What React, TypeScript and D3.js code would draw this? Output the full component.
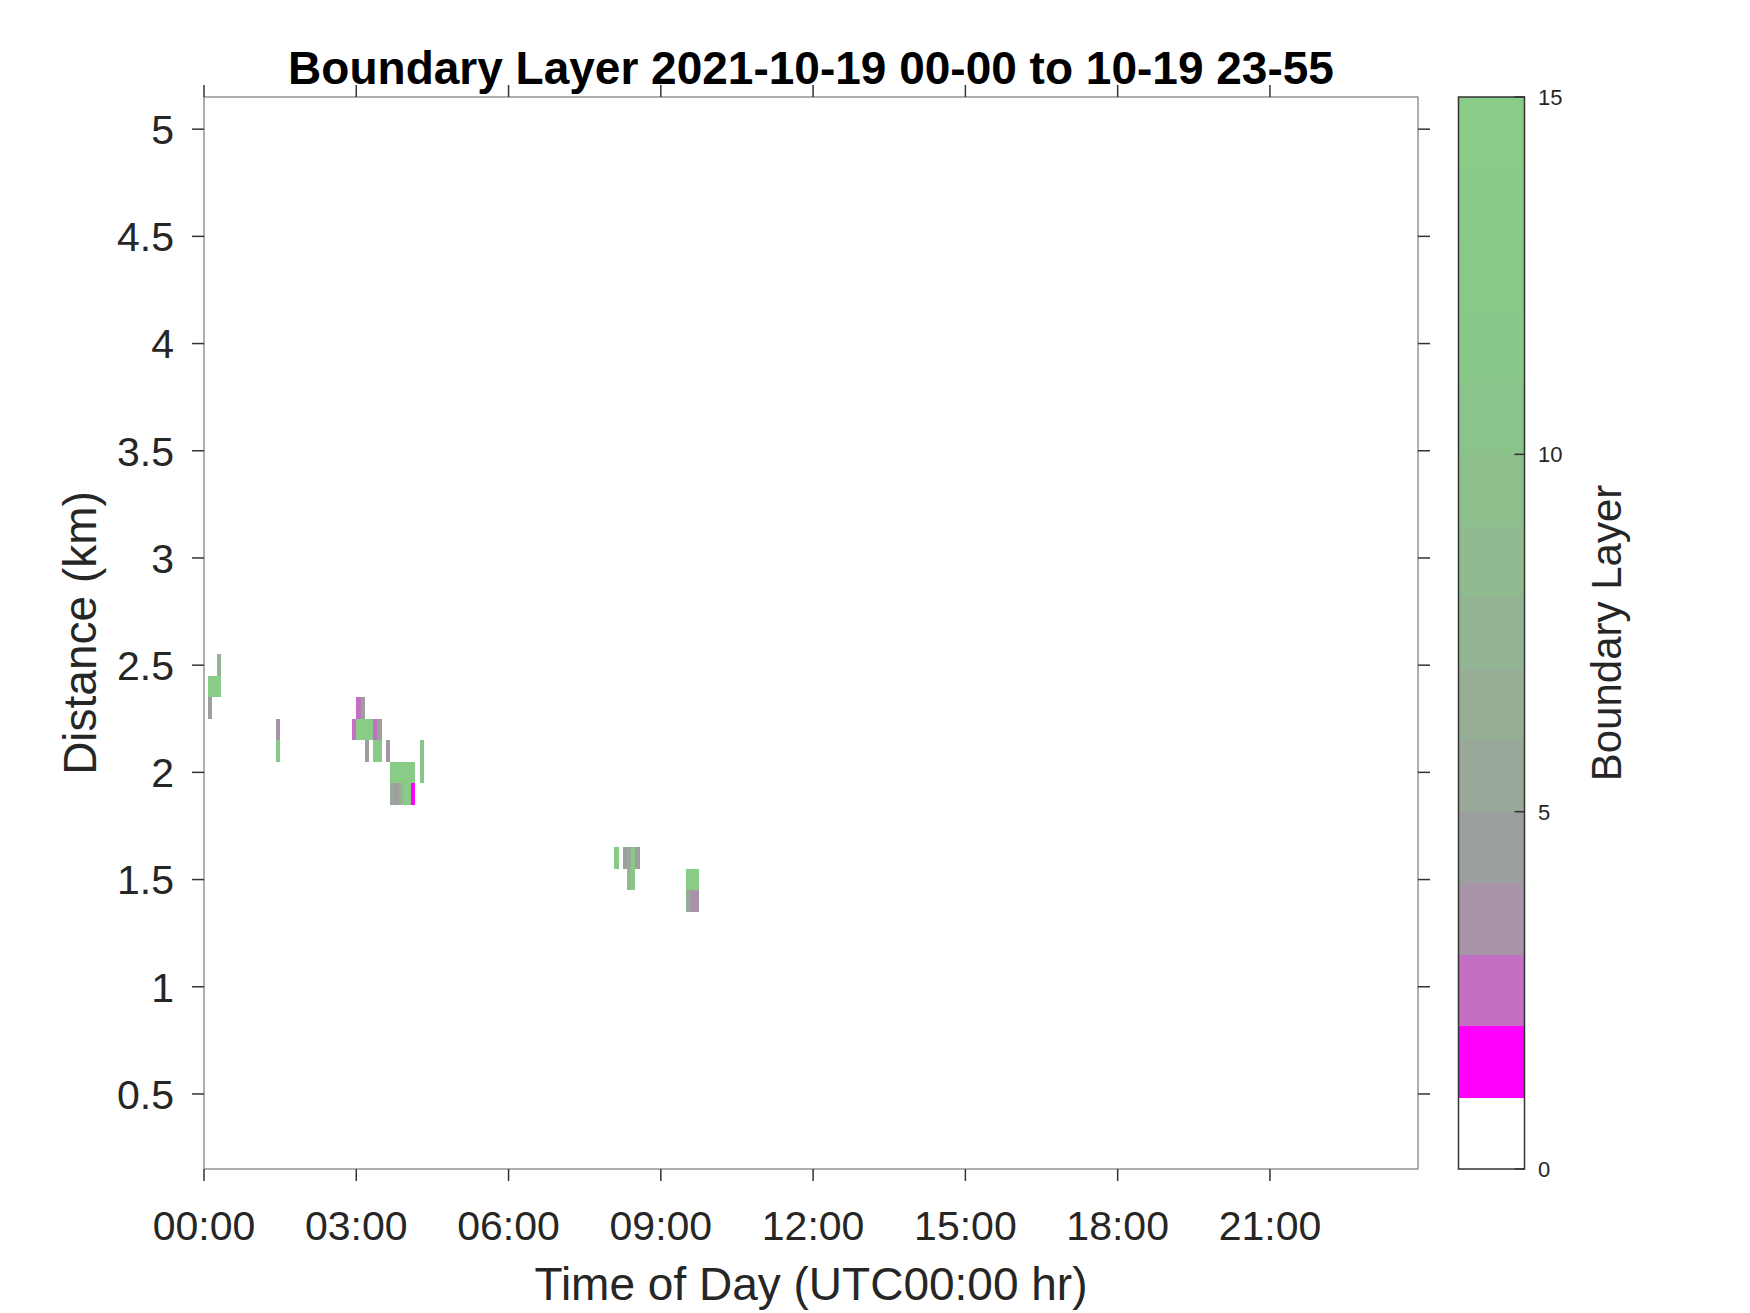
import React from "react";
import * as d3 from "d3";

// time of each cell start (minutes after 00:00), range bin centre (km), class level
const cellMinutes = [
  5, 10, 15, 15, 5,
  85, 85,
  180, 185,
  175, 180, 185, 190, 195, 200, 205,
  190, 200, 205, 215, 255,
  220, 225, 230, 235, 240, 245, 255,
  220, 225, 230, 235, 240, 245,
  485, 495, 500, 505, 510,
  500, 505,
  570, 575, 580,
  570, 575, 580,
];
const cellKm = [
  2.4, 2.4, 2.4, 2.5, 2.3,
  2.2, 2.1,
  2.3, 2.3,
  2.2, 2.2, 2.2, 2.2, 2.2, 2.2, 2.2,
  2.1, 2.1, 2.1, 2.1, 2.1,
  2.0, 2.0, 2.0, 2.0, 2.0, 2.0, 2.0,
  1.9, 1.9, 1.9, 1.9, 1.9, 1.9,
  1.6, 1.6, 1.6, 1.6, 1.6,
  1.5, 1.5,
  1.5, 1.5, 1.5,
  1.4, 1.4, 1.4,
];
const cellLevel = [
  14, 14, 14, 7, 4,
  3, 12,
  2, 4,
  2, 14, 14, 14, 14, 2, 4,
  4, 13, 13, 3, 10,
  14, 14, 14, 14, 14, 14, 11,
  5, 4, 7, 13, 13, 1,
  12, 4, 5, 12, 4,
  8, 12,
  14, 14, 14,
  6, 3, 3,
];

// discrete colormap, one colour per unit from 0 to 15
const levelColors = [
  "#ffffff", "#ff00ff", "#c36fc2", "#a894a8", "#9ca09c",
  "#99a899", "#96ae96", "#93b493", "#90ba90", "#8dbf8d",
  "#8ac48a", "#89c789", "#88c988", "#88cb88", "#88cc88",
];

const xTickMinutes = [0, 180, 360, 540, 720, 900, 1080, 1260];
const xTickLabels = ["00:00", "03:00", "06:00", "09:00", "12:00", "15:00", "18:00", "21:00"];
const yTicks = [0.5, 1, 1.5, 2, 2.5, 3, 3.5, 4, 4.5, 5];
const cbTicks = [0, 5, 10, 15];

const W = 1750;
const H = 1313;
const plot = { left: 204, right: 1418, top: 97, bottom: 1169 };
const cb = { left: 1458.5, right: 1524.5 };
const font = "'Liberation Sans', Arial, Helvetica, sans-serif";
const txt = "#262626";

export default function App() {
  const x = d3.scaleLinear().domain([0, 1435]).range([plot.left, plot.right]);
  const y = d3.scaleLinear().domain([0.15, 5.15]).range([plot.bottom, plot.top]);
  const c = d3.scaleLinear().domain([0, 15]).range([plot.bottom, plot.top]);
  const tl = 12;

  const cells = cellMinutes.map((m, i) => ({ m, km: cellKm[i], lv: cellLevel[i] }));

  return (
    <svg
      width={W}
      height={H}
      style={{ position: "absolute", left: 0, top: 0, background: "#fff" }}
      fontFamily={font}
    >
      {/* cells */}
      <g shapeRendering="crispEdges">
        {cells.map((d, i) => (
          <rect
            key={i}
            x={x(d.m)}
            y={y(d.km + 0.05)}
            width={x(d.m + 5) - x(d.m)}
            height={y(d.km - 0.05) - y(d.km + 0.05)}
            fill={levelColors[d.lv]}
          />
        ))}
      </g>

      {/* axes box */}
      <rect
        x={plot.left}
        y={plot.top}
        width={plot.right - plot.left}
        height={plot.bottom - plot.top}
        fill="none"
        stroke="#7a7a7a"
        strokeWidth={1.2}
      />

      {/* x ticks, top and bottom, outward */}
      {xTickMinutes.map((m, i) => (
        <g key={m}>
          <line x1={x(m)} x2={x(m)} y1={plot.bottom} y2={plot.bottom + tl} stroke="#333" strokeWidth={1.5} />
          <line x1={x(m)} x2={x(m)} y1={plot.top} y2={plot.top - tl} stroke="#333" strokeWidth={1.5} />
          <text x={x(m)} y={1240} textAnchor="middle" fontSize={41} fill={txt}>
            {xTickLabels[i]}
          </text>
        </g>
      ))}

      {/* y ticks, left and right, outward */}
      {yTicks.map((v) => (
        <g key={v}>
          <line x1={plot.left - tl} x2={plot.left} y1={y(v)} y2={y(v)} stroke="#333" strokeWidth={1.5} />
          <line x1={plot.right} x2={plot.right + tl} y1={y(v)} y2={y(v)} stroke="#333" strokeWidth={1.5} />
          <text x={174} y={y(v)} dy="0.36em" textAnchor="end" fontSize={41} fill={txt}>
            {String(v)}
          </text>
        </g>
      ))}

      {/* title and axis labels */}
      <text x={(plot.left + plot.right) / 2} y={84} textAnchor="middle" fontSize={46} fontWeight="bold" fill="#000">
        Boundary Layer 2021-10-19 00-00 to 10-19 23-55
      </text>
      <text x={(plot.left + plot.right) / 2} y={1300} textAnchor="middle" fontSize={46} fill={txt}>
        Time of Day (UTC00:00 hr)
      </text>
      <text
        transform={`translate(96,${(plot.top + plot.bottom) / 2}) rotate(-90)`}
        textAnchor="middle"
        fontSize={46}
        fill={txt}
      >
        Distance (km)
      </text>

      {/* colorbar */}
      <g shapeRendering="crispEdges">
        {levelColors.map((col, i) => (
          <rect
            key={i}
            x={cb.left}
            y={c(i + 1)}
            width={cb.right - cb.left}
            height={c(i) - c(i + 1)}
            fill={col}
          />
        ))}
      </g>
      <rect
        x={cb.left}
        y={plot.top}
        width={cb.right - cb.left}
        height={plot.bottom - plot.top}
        fill="none"
        stroke="#333"
        strokeWidth={1.5}
      />
      {cbTicks.map((v) => (
        <g key={v}>
          <line x1={cb.right - 10} x2={cb.right} y1={c(v)} y2={c(v)} stroke="#333" strokeWidth={1.5} />
          <text x={1538} y={c(v)} dy="0.36em" fontSize={22} fill={txt}>
            {v}
          </text>
        </g>
      ))}
      <text
        transform={`translate(1621,${(plot.top + plot.bottom) / 2}) rotate(-90)`}
        textAnchor="middle"
        fontSize={42}
        fill={txt}
      >
        Boundary Layer
      </text>
    </svg>
  );
}
